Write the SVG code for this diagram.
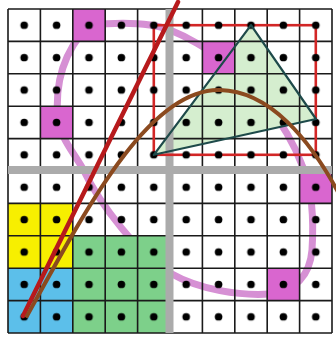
<svg xmlns="http://www.w3.org/2000/svg" width="336" height="338" viewBox="0 0 336 338">
<defs>
<style>
.mag{fill:#d966cf}
.grid{fill:none;stroke:#1a1a1a;stroke-width:1.6}
.gray{stroke:#ababab;stroke-width:8}
</style>
<pattern id="dots" x="8" y="9" width="32.4" height="32.4" patternUnits="userSpaceOnUse"><circle cx="16.2" cy="16.2" r="3.8" fill="#000"/></pattern>
</defs>
<rect x="0" y="0" width="336" height="338" fill="#fff"/>
<g id="loop"><path d="M89,25 C120,22 150,22 170,30 C190,38 205,48 220,58 C250,80 285,120 302,165 C312,185 314,220 312,250 C310,275 295,292 270,294 C240,296 200,290 170,273 C140,256 100,205 83,169 C72,150 62,140 58,120 C55,90 60,55 89,25 Z" fill="none" stroke="#d690d4" stroke-width="7"/></g>
<g id="cells">
<rect x="8" y="203.4" width="64.8" height="64.8" fill="#f7ef00"/>
<rect x="8" y="268.2" width="64.8" height="64.8" fill="#5cbfea"/>
<rect x="72.8" y="235.8" width="97.2" height="97.2" fill="#7dd08a"/>
</g>
<g id="triangle-fill"><polygon points="251,25.2 316,119 153.8,154.8" fill="#d5eecf"/></g>
<g id="marked">
<rect class="mag" x="72.8" y="9" width="32.4" height="32.4"/>
<rect class="mag" x="40.4" y="106.2" width="32.4" height="32.4"/>
<rect class="mag" x="202.4" y="41.4" width="32.4" height="32.4"/>
<rect class="mag" x="299.6" y="171" width="32.4" height="32.4"/>
<rect class="mag" x="267.2" y="268.2" width="32.4" height="32.4"/>
</g>
<g id="gridlines">
<path class="grid" d="M8,9V333M40.4,9V333M72.8,9V333M105.2,9V333M137.6,9V333M202.4,9V333M234.8,9V333M267.2,9V333M299.6,9V333M332,9V333M8,9H332M8,41.4H332M8,73.8H332M8,106.2H332M8,138.6H332M8,203.4H332M8,235.8H332M8,268.2H332M8,300.6H332M8,333H332"/>
<path class="gray" d="M169.5,9V333M8,170H332"/>
</g>
<g id="rect"><rect x="153.8" y="25.2" width="162" height="129.6" fill="none" stroke="#d22626" stroke-width="2.6"/></g>
<g id="points"><rect x="8" y="9" width="324" height="324" fill="url(#dots)"/></g>
<g id="triangle"><polygon points="251,25.2 316,119 153.8,154.8" fill="none" stroke="#1e4a4a" stroke-width="2.2" stroke-linejoin="round"/></g>
<g id="connectors">
<path d="M23,316 L178,2" stroke="#b71a1c" stroke-width="4.5" stroke-linecap="round" fill="none"/>
<path d="M27,316 C88,205 150,88 220,90 C270,91 310,140 338,192" stroke="#8b4a1f" stroke-width="4" fill="none" stroke-linecap="round"/>
</g>
</svg>
